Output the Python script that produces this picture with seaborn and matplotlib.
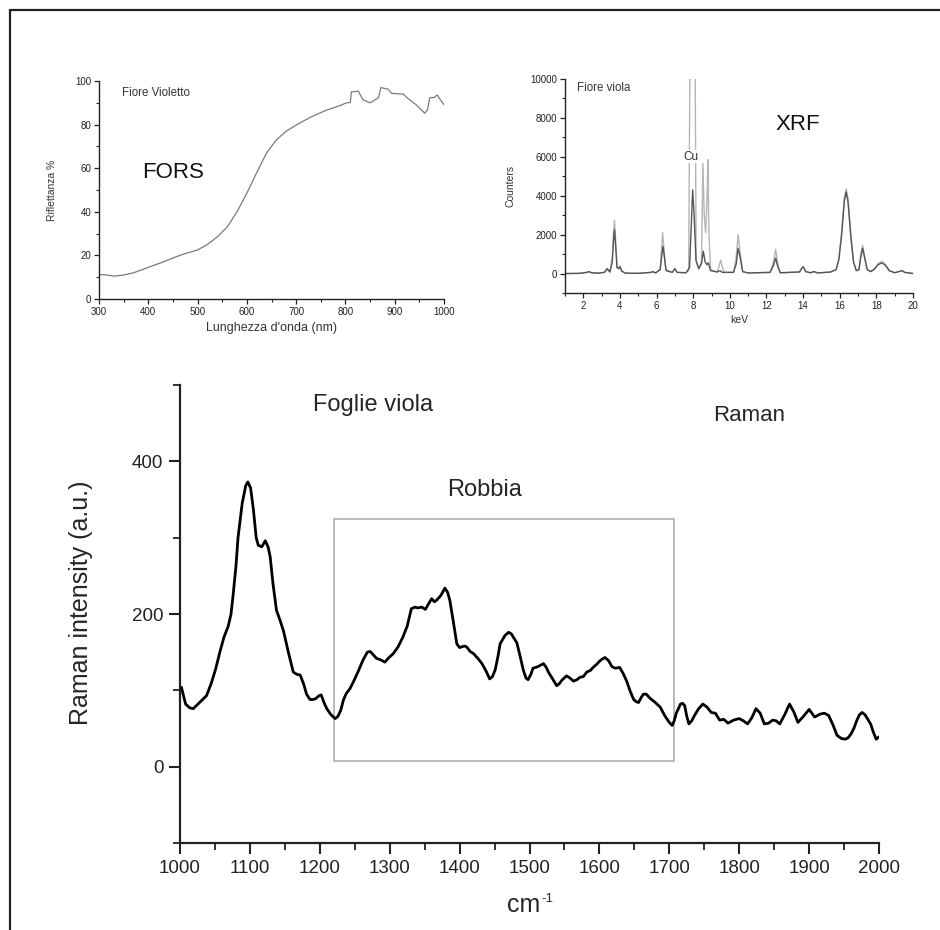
import numpy as np
import pandas as pd
import matplotlib
matplotlib.use("Agg")
import matplotlib.pyplot as plt
from matplotlib.ticker import MultipleLocator
from matplotlib.patches import Rectangle
from matplotlib.lines import Line2D
import seaborn as sns

# ---------------- data ----------------
fors_nm = [300, 310, 330, 350, 370, 400, 430, 450, 470, 500, 520, 540, 560, 580,
           600, 620, 640, 660, 680, 700, 730, 760, 790, 800, 810, 812, 826, 836,
           850, 867, 872, 887, 894, 917, 927, 944, 961, 967, 971, 981, 986, 1000]
fors_refl = [11, 11.2, 10.5, 11, 12, 14.5, 17, 18.8, 20.5, 22.5, 25, 28.5, 33, 40,
             48.5, 58, 67, 73, 77, 79.8, 83.5, 86.5, 88.8, 89.8, 90.2, 95, 95.3, 91.3,
             90, 92.3, 97, 96.2, 94.3, 94, 92, 89, 85.2, 87, 92.3, 92.5, 93.6, 89]

# XRF spectra as (keV, counts) pairs
xrf_dark = [(1.0, 0), (1.8, 10), (2.2, 60), (2.3, 100), (2.45, 40), (2.8, 20),
            (3.15, 60), (3.3, 250), (3.45, 80), (3.58, 600), (3.65, 1700),
            (3.7, 2250), (3.76, 1500), (3.84, 300), (3.93, 250), (4.0, 350),
            (4.1, 120), (4.3, 20), (5.0, 10), (5.7, 60), (5.8, 100), (5.95, 30),
            (6.2, 200), (6.28, 900), (6.35, 1400), (6.42, 900), (6.52, 150),
            (6.85, 60), (7.0, 250), (7.12, 60), (7.6, 40), (7.8, 300), (7.9, 2600),
            (7.97, 4300), (8.05, 3000), (8.15, 700), (8.3, 250), (8.45, 500),
            (8.55, 1150), (8.65, 600), (8.75, 450), (8.82, 550), (8.95, 150),
            (9.3, 80), (9.45, 150), (9.6, 60), (10.2, 60), (10.35, 500),
            (10.45, 1300), (10.55, 900), (10.7, 100), (11.0, 30), (12.2, 60),
            (12.38, 400), (12.5, 800), (12.6, 400), (12.75, 40), (13.8, 80),
            (13.95, 300), (14.0, 350), (14.15, 100), (14.4, 40), (14.6, 100),
            (14.8, 30), (15.5, 80), (15.8, 200), (15.95, 700), (16.1, 1950),
            (16.25, 3700), (16.35, 4200), (16.45, 3700), (16.6, 1950), (16.75, 600),
            (16.9, 150), (17.05, 200), (17.15, 850), (17.25, 1300), (17.35, 850),
            (17.5, 200), (17.7, 100), (17.9, 230), (18.1, 460), (18.3, 550),
            (18.5, 420), (18.7, 150), (19.0, 40), (19.3, 120), (19.4, 150),
            (19.55, 60), (20.0, 0)]
xrf_light = [(1.0, 0), (1.8, 10), (2.2, 60), (2.3, 100), (2.45, 40), (2.8, 20),
             (3.15, 60), (3.3, 250), (3.45, 80), (3.58, 800), (3.65, 2100),
             (3.7, 2750), (3.76, 1800), (3.84, 350), (3.93, 250), (4.0, 400),
             (4.1, 120), (4.3, 20), (5.0, 10), (5.7, 60), (5.8, 100), (5.95, 30),
             (6.2, 250), (6.27, 1300), (6.33, 2100), (6.4, 1300), (6.5, 200),
             (6.85, 60), (7.0, 250), (7.12, 60), (7.6, 40), (7.75, 150),
             (7.83, 12000), (8.1, 12000), (8.16, 600), (8.3, 250), (8.45, 600),
             (8.53, 5650), (8.6, 3000), (8.68, 2100), (8.76, 4000), (8.8, 5850),
             (8.86, 2000), (8.95, 200), (9.3, 80), (9.42, 400), (9.5, 700),
             (9.58, 350), (9.7, 60), (10.2, 60), (10.33, 700), (10.45, 2000),
             (10.55, 1200), (10.7, 100), (11.0, 30), (12.2, 60), (12.38, 600),
             (12.5, 1250), (12.6, 600), (12.75, 40), (13.8, 80), (13.95, 300),
             (14.0, 350), (14.15, 100), (14.4, 40), (14.6, 100), (14.8, 30),
             (15.5, 80), (15.8, 200), (15.95, 750), (16.1, 2100), (16.25, 3900),
             (16.35, 4350), (16.45, 3900), (16.6, 2100), (16.75, 650), (16.9, 150),
             (17.05, 200), (17.15, 1000), (17.25, 1450), (17.35, 950), (17.5, 200),
             (17.7, 100), (17.9, 250), (18.1, 520), (18.3, 620), (18.5, 470),
             (18.7, 150), (19.0, 40), (19.3, 120), (19.4, 150), (19.55, 60),
             (20.0, 0)]

# Raman spectrum as (cm-1, intensity) pairs
raman = [(1000, 100), (1002, 104), (1008, 82), (1014, 77), (1019, 76), (1028, 84),
         (1038, 93), (1045, 110), (1051, 128), (1057, 150), (1063, 170),
         (1069, 184), (1073, 200), (1076, 225), (1080, 262), (1083, 300),
         (1089, 345), (1094, 368), (1097, 373), (1101, 365), (1105, 337),
         (1109, 300), (1112, 290), (1117, 288), (1122, 296), (1126, 288),
         (1129, 275), (1133, 240), (1138, 205), (1143, 192), (1148, 178),
         (1155, 150), (1162, 124), (1167, 121), (1172, 120), (1177, 108),
         (1181, 95), (1186, 88), (1190, 88), (1194, 89), (1199, 93), (1202, 94),
         (1206, 84), (1210, 76), (1216, 68), (1222, 63), (1226, 66), (1230, 74),
         (1234, 88), (1238, 96), (1243, 102), (1248, 111), (1255, 125),
         (1262, 140), (1268, 150), (1272, 151), (1277, 146), (1281, 142),
         (1287, 140), (1293, 137), (1299, 143), (1305, 148), (1312, 157),
         (1319, 170), (1325, 184), (1331, 207), (1336, 209), (1340, 208),
         (1346, 209), (1351, 206), (1356, 214), (1360, 220), (1364, 216),
         (1367, 218), (1373, 224), (1379, 234), (1383, 228), (1386, 218),
         (1391, 190), (1396, 161), (1400, 156), (1403, 157), (1407, 158),
         (1410, 157), (1415, 151), (1420, 148), (1426, 142), (1432, 135),
         (1438, 125), (1443, 115), (1447, 118), (1451, 127), (1455, 145),
         (1458, 161), (1465, 172), (1470, 176), (1474, 174), (1478, 168),
         (1482, 162), (1487, 143), (1491, 127), (1495, 116), (1498, 114),
         (1502, 121), (1505, 129), (1512, 131), (1516, 133), (1520, 135),
         (1524, 130), (1527, 124), (1533, 115), (1539, 106), (1543, 109),
         (1546, 113), (1553, 119), (1558, 116), (1563, 112), (1568, 114),
         (1572, 117), (1577, 118), (1582, 124), (1587, 126), (1591, 130),
         (1596, 134), (1600, 138), (1604, 141), (1608, 143), (1613, 139),
         (1618, 131), (1623, 129), (1629, 130), (1634, 122), (1639, 112),
         (1644, 99), (1649, 88), (1653, 85), (1656, 84), (1660, 91), (1663, 95),
         (1667, 95), (1672, 90), (1680, 84), (1687, 78), (1694, 66), (1700, 58),
         (1704, 54), (1707, 60), (1710, 70), (1716, 82), (1719, 83), (1722, 80),
         (1725, 66), (1728, 56), (1732, 60), (1736, 67), (1742, 76), (1748, 82),
         (1754, 78), (1760, 71), (1766, 70), (1772, 61), (1778, 62), (1784, 57),
         (1792, 61), (1800, 63), (1806, 60), (1812, 56), (1818, 64), (1824, 76),
         (1830, 70), (1836, 56), (1842, 57), (1848, 61), (1853, 60), (1858, 56),
         (1865, 68), (1872, 82), (1878, 72), (1884, 58), (1892, 66), (1900, 75),
         (1904, 70), (1908, 65), (1912, 67), (1916, 69), (1922, 70), (1928, 67),
         (1934, 55), (1940, 41), (1946, 37), (1952, 36), (1956, 38), (1960, 43),
         (1964, 50), (1968, 60), (1972, 68), (1976, 71), (1980, 68), (1984, 62),
         (1988, 56), (1992, 45), (1996, 36), (2000, 39)]

robbia_box = (1220, 1707, 7, 324)  # x0, x1, y0, y1 of the highlight box

# ---------------- style ----------------
sns.set_theme(style="ticks")
plt.rcParams['font.family'] = ['Liberation Sans', 'DejaVu Sans']
plt.rcParams['axes.edgecolor'] = '#222222'
plt.rcParams['xtick.color'] = '#222222'
plt.rcParams['ytick.color'] = '#222222'

fig = plt.figure(figsize=(9.4, 9.3), dpi=100)
fig.patch.set_facecolor('white')

# frame lines (top & left) of the original figure
fig.add_artist(Line2D([9.5 / 940, 1.0], [1 - 10 / 930, 1 - 10 / 930],
                      transform=fig.transFigure, color='#222222', lw=1.6))
fig.add_artist(Line2D([9.5 / 940, 9.5 / 940], [0.0, 1 - 10 / 930],
                      transform=fig.transFigure, color='#222222', lw=1.6))


def style_small(ax):
    for s in ['top', 'right']:
        ax.spines[s].set_visible(False)
    for s in ['left', 'bottom']:
        ax.spines[s].set_linewidth(1.0)
    ax.tick_params(which='major', direction='out', length=3.5, width=0.9,
                   labelsize=7, pad=2)
    ax.tick_params(which='minor', direction='out', length=2, width=0.8)
    ax.set_facecolor('white')


# ---------------- FORS ----------------
ax1 = fig.add_axes([99 / 940, 1 - 299 / 930, 345 / 940, 218 / 930])
df_fors = pd.DataFrame({'nm': fors_nm, 'R': fors_refl})
sns.lineplot(data=df_fors, x='nm', y='R', ax=ax1, color='#7a7a7a', lw=0.9,
             estimator=None, sort=False)
ax1.set_xlim(300, 1000)
ax1.set_ylim(0, 100)
ax1.xaxis.set_major_locator(MultipleLocator(100))
ax1.xaxis.set_minor_locator(MultipleLocator(50))
ax1.yaxis.set_major_locator(MultipleLocator(20))
ax1.yaxis.set_minor_locator(MultipleLocator(10))
style_small(ax1)
ax1.set_xlabel("Lunghezza d'onda (nm)", fontsize=9, color='#333333', labelpad=4)
ax1.set_ylabel("Riflettanza %", fontsize=7.5, color='#333333', labelpad=13)
ax1.text(346, 94.6, "Fiore Violetto", fontsize=8.3, color='#333333', va='center')
ax1.text(450, 58, "FORS", fontsize=16, color='#111111', ha='center', va='center')

# ---------------- XRF ----------------
ax2 = fig.add_axes([565 / 940, 1 - 293 / 930, 348 / 940, 214 / 930])
df_light = pd.DataFrame(xrf_light, columns=['keV', 'c'])
df_dark = pd.DataFrame(xrf_dark, columns=['keV', 'c'])
sns.lineplot(data=df_light, x='keV', y='c', ax=ax2, color='#b5b5b5', lw=1.0,
             estimator=None, sort=False)
sns.lineplot(data=df_dark, x='keV', y='c', ax=ax2, color='#555555', lw=1.0,
             estimator=None, sort=False)
ax2.set_xlim(1, 20)
ax2.set_ylim(-1000, 10000)
ax2.xaxis.set_major_locator(MultipleLocator(2))
ax2.xaxis.set_minor_locator(MultipleLocator(1))
ax2.yaxis.set_major_locator(MultipleLocator(2000))
ax2.yaxis.set_minor_locator(MultipleLocator(1000))
ax2.set_xticks(range(2, 21, 2))
style_small(ax2)
ax2.set_xlabel("keV", fontsize=7.5, color='#333333', labelpad=3)
ax2.set_ylabel("Counters", fontsize=7.5, color='#333333', labelpad=11)
ax2.text(1.64, 9540, "Fiore viola", fontsize=8.3, color='#333333', va='center')
ax2.text(7.86, 6000, "Cu", fontsize=8.5, color='#333333', ha='center', va='center',
         bbox=dict(boxstyle='square,pad=0.05', facecolor='white', edgecolor='none'),
         zorder=5)
ax2.text(13.7, 7650, "XRF", fontsize=16, color='#111111', ha='center', va='center')

# ---------------- Raman ----------------
ax3 = fig.add_axes([180 / 940, 1 - 843 / 930, 699 / 940, 458 / 930])
df_raman = pd.DataFrame(raman, columns=['cm', 'I'])
sns.lineplot(data=df_raman, x='cm', y='I', ax=ax3, color='black', lw=2.0,
             estimator=None, sort=False)
ax3.set_xlim(1000, 2000)
ax3.set_ylim(-100, 500)
ax3.xaxis.set_major_locator(MultipleLocator(100))
ax3.xaxis.set_minor_locator(MultipleLocator(50))
ax3.yaxis.set_major_locator(MultipleLocator(200))
ax3.yaxis.set_minor_locator(MultipleLocator(100))
for s in ['top', 'right']:
    ax3.spines[s].set_visible(False)
for s in ['left', 'bottom']:
    ax3.spines[s].set_linewidth(1.6)
ax3.tick_params(which='major', direction='out', length=8, width=1.5,
                labelsize=13.5, pad=4)
ax3.tick_params(which='minor', direction='out', length=5, width=1.3)
ax3.set_facecolor('white')
x0, x1, y0, y1 = robbia_box
ax3.add_patch(Rectangle((x0, y0), x1 - x0, y1 - y0, fill=False,
                        edgecolor='#a8a8a8', lw=1.1))
ax3.set_xlabel("cm", fontsize=18)
ax3.xaxis.label.set_va('baseline')
ax3.xaxis.set_label_coords(0.491, -0.1507)
ax3.text(0.5165, -0.1288, "-1", transform=ax3.transAxes, fontsize=9.5,
         ha='left', va='baseline')
ax3.set_ylabel("Raman intensity (a.u.)", fontsize=18)
ax3.yaxis.set_label_coords(-0.1245, 0.524)
ax3.text(1276, 474, "Foglie viola", fontsize=17, ha='center', va='center')
ax3.text(1814, 460, "Raman", fontsize=16, ha='center', va='center')
ax3.text(1436, 362, "Robbia", fontsize=17, ha='center', va='center')

fig.savefig("out.png", dpi=100, facecolor='white')
